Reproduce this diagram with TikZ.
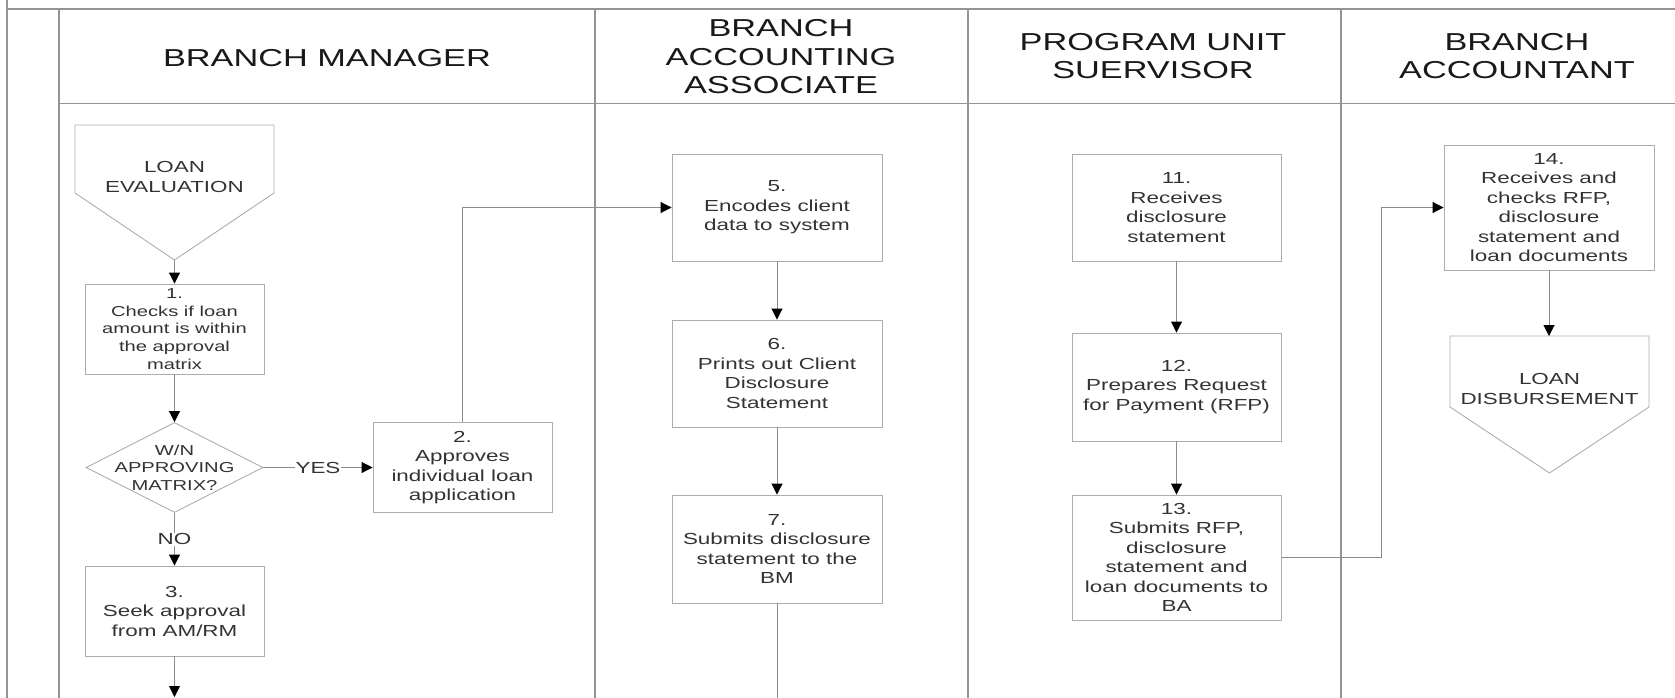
\documentclass[tikz,border=0pt]{standalone}
\usepackage{fontspec}
\setmainfont{Liberation Sans}[FakeStretch=1.40]
\usetikzlibrary{positioning,calc,arrows.meta,shapes.geometric}
\tikzset{>={Triangle[length=11pt,width=11pt,black]}}
\colorlet{lanegray}{black!42}
\colorlet{boxgray}{black!32}
\colorlet{flowgray}{black!45}
\tikzset{
  lane/.style={draw=lanegray,line width=1.5pt},
  steptext/.style={align=center,text=black!80,inner sep=0pt,font=\fontsize{16}{19.5}\selectfont},
  smalltext/.style={steptext,font=\fontsize{14.4}{17.6}\selectfont},
  stepbox/.style={steptext,draw=boxgray,line width=0.9pt},
  boxline/.style={draw=boxgray,line width=0.9pt},
  decision/.style={diamond,draw=boxgray,line width=0.9pt,inner sep=0pt},
  flow/.style={draw=flowgray,line width=0.9pt},
  lanetitle/.style={align=center,text=black!90,inner sep=0pt,font=\fontsize{24.5}{28.5}\selectfont},
  answer/.style={steptext,fill=white,inner sep=1pt}
}

\begin{document}
\begin{tikzpicture}[x=1pt,y=-1pt]
\useasboundingbox (0,0) rectangle (1675,698);
% swimlanes
\draw[lane] (7,0) -- (7,698);
\draw[lane] (7,9) -- (1675,9);
\foreach \x in {59,595,968,1341} \draw[lane] (\x,9) -- (\x,698);
\draw[lanegray,line width=1pt] (59,104) -- (1675,104);
\node[lanetitle] (bmhead) at (327,58.5) {BRANCH MANAGER};
\node[lanetitle] (baahead) at (781,57) {BRANCH\\ACCOUNTING\\ASSOCIATE};
\node[lanetitle] (pushead) at (1153,56) {PROGRAM UNIT\\SUERVISOR};
\node[lanetitle] (bahead) at (1517,56) {BRANCH\\ACCOUNTANT};
% branch manager
\draw[boxline] (75,125) -- (274,125) -- (274,193) -- (174.5,260) coordinate (evaltip) -- (75,193) -- cycle;
\node[steptext] (eval) at (174.5,177) {LOAN\\EVALUATION};
\node[stepbox,smalltext,minimum width=179,minimum height=90] (c1) at (174.5,329) {1.\\Checks if loan\\amount is within\\the approval\\matrix};
\node[decision,minimum width=177,minimum height=90,label={[smalltext]center:W/N\\APPROVING\\MATRIX?}] (dec) at (174.5,467.5) {};
\node[stepbox,minimum width=179,minimum height=90] (c2) at (462.5,467.5) {2.\\Approves\\individual loan\\application};
\node[stepbox,minimum width=179,minimum height=90] (c3) at (174.5,611) {3.\\Seek approval\\from AM/RM};
\coordinate (bmout) at (174.5,697);
\draw[flow,->] (evaltip) -- (c1.north);
\draw[flow,->] (c1) -- (dec);
\draw[flow,->] (dec.east) -- node[answer] {YES} (c2.west);
\draw[flow,->] (dec.south) -- node[answer] {NO} (c3.north);
\draw[flow,->] (c3) -- (bmout);
% branch accounting associate
\node[stepbox,minimum width=210,minimum height=107] (c5) at (777,207.5) {5.\\Encodes client\\data to system};
\node[stepbox,minimum width=210,minimum height=107] (c6) at (777,373.5) {6.\\Prints out Client\\Disclosure\\Statement};
\node[stepbox,minimum width=210,minimum height=108] (c7) at (777,549) {7.\\Submits disclosure\\statement to the\\BM};
\coordinate (baaout) at (777,698);
\draw[flow,->] (c2.north) |- (c5.west);
\draw[flow,->] (c5) -- (c6);
\draw[flow,->] (c6) -- (c7);
\draw[flow] (c7) -- (baaout);
% program unit supervisor
\node[stepbox,minimum width=209,minimum height=107] (c11) at (1176.5,207.5) {11.\\Receives\\disclosure\\statement};
\node[stepbox,minimum width=209,minimum height=108] (c12) at (1176.5,387) {12.\\Prepares Request\\for Payment (RFP)};
\node[stepbox,minimum width=209,minimum height=125] (c13) at (1176.5,557.5) {13.\\Submits RFP,\\disclosure\\statement and\\loan documents to\\BA};
\draw[flow,->] (c11) -- (c12);
\draw[flow,->] (c12) -- (c13);
% branch accountant
\node[stepbox,minimum width=210,minimum height=125] (c14) at (1549,207.5) {14.\\Receives and\\checks RFP,\\disclosure\\statement and\\loan documents};
\draw[boxline] (1450,336) -- (1649,336) -- (1649,407) -- (1549.5,473) -- (1450,407) -- cycle;
\coordinate (disbin) at (1549,336);
\node[steptext] (disb) at (1549.5,389) {LOAN\\DISBURSEMENT};
\draw[flow,->] (c13.east) -- ++(100,0) |- (c14.west);
\draw[flow,->] (c14) -- (disbin);
\end{tikzpicture}
\end{document}
